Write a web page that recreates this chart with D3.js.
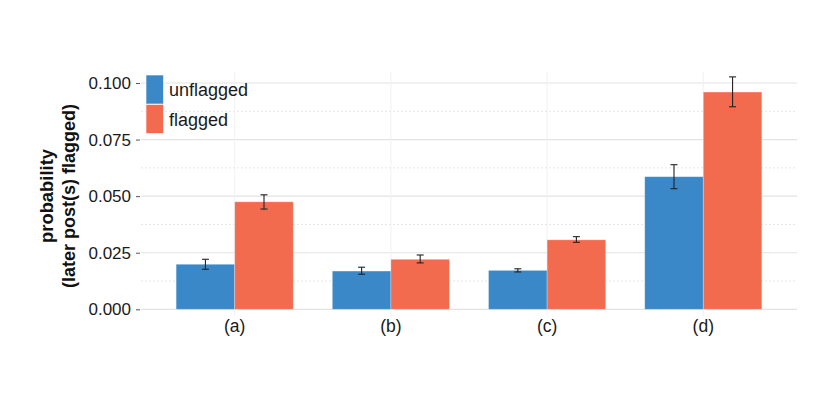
<!DOCTYPE html>
<html><head><meta charset="utf-8">
<script src="https://cdn.jsdelivr.net/npm/d3@7"></script>
<style>body{margin:0;background:#fff}svg{display:block}text{font-family:"Liberation Sans",Arial,sans-serif}</style>
</head><body><svg id="c" width="830" height="400"></svg>
<script>
const categories = ["(a)", "(b)", "(c)", "(d)"];
const seriesNames = ["unflagged", "flagged"];
const unflagged = [0.0199, 0.0169, 0.0172, 0.0586];
const flagged = [0.0475, 0.0221, 0.0307, 0.0960];
const unflaggedLo = [0.0177, 0.0155, 0.0165, 0.0533];
const unflaggedHi = [0.0221, 0.0186, 0.0179, 0.0639];
const flaggedLo = [0.0443, 0.0205, 0.0296, 0.0895];
const flaggedHi = [0.0506, 0.0240, 0.0321, 0.1027];
const yTicks = [0, 0.025, 0.05, 0.075, 0.1];
const yMinor = [0.0125, 0.0375, 0.0625, 0.0875];
const colors = ["#3b88c8", "#f26b4f"];
const yTitle = ["probability", "(later post(s) flagged)"];

const svg = d3.select("#c");
const L = 141, R = 797, T = 72, B = 316;
const unit = (R - L) / 4.2;
const x = d3.scaleBand().domain(categories)
  .range([L + 0.6 * unit - unit / 2, R - 0.6 * unit + unit / 2]).padding(0);
const xs = d3.scaleBand().domain(seriesNames).range([0, unit * 0.75]);
const y = d3.scaleLinear().domain([0, 0.1]).range([309.3, 83]);

const g = svg.append("g");
g.selectAll(".mg").data(yMinor).join("line")
  .attr("x1", L).attr("x2", R).attr("y1", d => y(d)).attr("y2", d => y(d))
  .attr("stroke", "#e6e6e6").attr("stroke-width", 1).attr("stroke-dasharray", "2,2");
g.selectAll(".Mg").data(yTicks).join("line")
  .attr("x1", L).attr("x2", R).attr("y1", d => y(d)).attr("y2", d => y(d))
  .attr("stroke", "#e3e3e3").attr("stroke-width", 1.2);
g.selectAll(".vg").data(categories).join("line")
  .attr("x1", d => x(d) + unit / 2).attr("x2", d => x(d) + unit / 2)
  .attr("y1", T).attr("y2", B)
  .attr("stroke", "#f1f1f1").attr("stroke-width", 1);

const series = [
  {name: "unflagged", vals: unflagged, lo: unflaggedLo, hi: unflaggedHi, color: colors[0]},
  {name: "flagged", vals: flagged, lo: flaggedLo, hi: flaggedHi, color: colors[1]}
];
series.forEach(s => {
  const bx = i => x(categories[i]) + unit * 0.125 + xs(s.name);
  g.selectAll(null).data(s.vals).join("rect")
    .attr("x", (d, i) => bx(i)).attr("width", xs.bandwidth())
    .attr("y", d => y(d)).attr("height", d => y(0) - y(d))
    .attr("fill", s.color).attr("stroke", "rgba(255,255,255,0.35)").attr("stroke-width", 0.8);
});
series.forEach(s => {
  const cx = i => x(categories[i]) + unit * 0.125 + xs(s.name) + xs.bandwidth() / 2;
  const eg = g.selectAll(null).data(s.vals).join("g").attr("stroke", "#222").attr("stroke-width", 1.1);
  eg.append("line").attr("x1", (d, i) => cx(i)).attr("x2", (d, i) => cx(i))
    .attr("y1", (d, i) => y(s.lo[i])).attr("y2", (d, i) => y(s.hi[i]));
  eg.append("line").attr("x1", (d, i) => cx(i) - 3.5).attr("x2", (d, i) => cx(i) + 3.5)
    .attr("y1", (d, i) => y(s.lo[i])).attr("y2", (d, i) => y(s.lo[i]));
  eg.append("line").attr("x1", (d, i) => cx(i) - 3.5).attr("x2", (d, i) => cx(i) + 3.5)
    .attr("y1", (d, i) => y(s.hi[i])).attr("y2", (d, i) => y(s.hi[i]));
});

const ya = svg.append("g").attr("transform", `translate(${L - 1},0)`)
  .call(d3.axisLeft(y).tickValues(yTicks).tickFormat(d3.format(".3f")).tickSize(4).tickPadding(5));
ya.select(".domain").remove();
ya.selectAll(".tick line").attr("stroke", "#555");
ya.selectAll("text").attr("font-size", 17).attr("fill", "#1a1a1a").attr("font-family", "Liberation Sans, Arial, sans-serif");

const xa = svg.append("g").attr("transform", `translate(0,${y(0)})`)
  .call(d3.axisBottom(x).tickSize(0).tickPadding(10));
xa.select(".domain").remove();
xa.selectAll("text").attr("font-size", 17.5).attr("fill", "#1a1a1a").attr("font-family", "Liberation Sans, Arial, sans-serif");

const titleLen = [94, 184];
const titleBase = [53, 75];
yTitle.forEach((t, i) => {
  const tx = svg.append("text")
    .attr("x", 0).attr("y", 0)
    .attr("text-anchor", "middle").attr("font-weight", "bold").attr("font-size", 18).attr("fill", "#111")
    .text(t);
  const w = tx.node().getComputedTextLength();
  const sx = titleLen[i] / w;
  tx.attr("transform", `translate(${titleBase[i]},196) rotate(-90) scale(${sx},1)`);
});

const lg = svg.append("g").attr("transform", "translate(146,75)");
seriesNames.forEach((n, i) => {
  lg.append("rect").attr("x", 0).attr("y", i * 29.5).attr("width", 17.5).attr("height", 29)
    .attr("fill", colors[i]).attr("stroke", "rgba(255,255,255,0.6)").attr("stroke-width", 1);
  lg.append("text").attr("x", 23).attr("y", i * 29.5 + 21).attr("font-size", 18).attr("fill", "#1a1a1a").text(n);
});
</script></body></html>
